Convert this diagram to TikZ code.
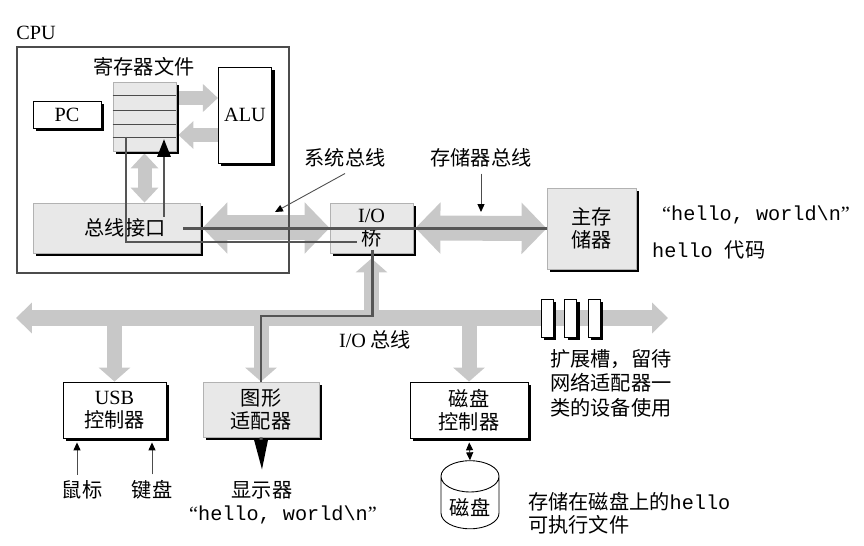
\documentclass[tikz,border=0pt]{standalone}
\usepackage{fontspec}
\setmainfont{Noto Sans CJK SC}
\setmonofont{Liberation Mono}
\newfontfamily\latfont{Liberation Serif}
\newcommand{\lat}[1]{{\latfont #1}}
\newcommand{\hwstr}{\lat{“}\texttt{hello, world\textbackslash n}\lat{”}}
\usetikzlibrary{arrows.meta,calc,positioning,shadows,shapes.geometric,backgrounds}
\definecolor{BusGray}{HTML}{C8C8C8}
\definecolor{BoxGray}{HTML}{E8E8E8}
\definecolor{PathGray}{HTML}{555555}
\tikzset{
  box/.style={draw=black, line width=0.5pt, fill=white, align=center,
    drop shadow={shadow xshift=0.06cm, shadow yshift=-0.06cm, fill=black, opacity=1}},
  graybox/.style={box, draw=black!30, fill=BoxGray},
  bigbus/.style={draw=BusGray, line width=0.5cm,
    {Triangle[width=1cm,length=0.5cm]}-{Triangle[width=1cm,length=0.5cm]}},
  iobus/.style={draw=BusGray, line width=0.32cm,
    {Triangle[width=0.6cm,length=0.32cm]}-{Triangle[width=0.6cm,length=0.32cm]}},
  tap/.style={draw=BusGray, line width=0.3cm, -{Triangle[width=0.62cm,length=0.28cm]}},
  regbus/.style={draw=BusGray, line width=0.28cm, -{Triangle[width=0.54cm,length=0.3cm]}},
  dataline/.style={draw=PathGray, line width=1.7pt},
  pointer/.style={draw=black!70, line width=0.5pt, -{Triangle[length=4.5pt,width=4pt,color=black]}},
}

\begin{document}
\begin{tikzpicture}[x=0.02cm,y=-0.02cm,font=\fontsize{11.5}{13}\selectfont]
  \useasboundingbox (0,0) rectangle (864,546);
  \node[draw=black!70, line width=1pt, minimum width=5.44cm, minimum height=4.52cm] (cpu) at (153,160) {};
  \node (cpulbl) at (36,33) {\lat{CPU}};
  \node[graybox, minimum width=1.26cm, minimum height=1.38cm] (regs) at (144.5,116.5) {};
  \foreach \y in {95,110,124,137}
    \draw[black!70] (regs.west |- 0,\y) -- (regs.east |- 0,\y);
  \node (regslbl) at (144,67) {寄存器文件};
  \node[box, minimum width=1.36cm, minimum height=0.54cm] (pc) at (67,114.5) {\lat{PC}};
  \node[box, minimum width=1cm, minimum height=1.92cm] (alu) at (245,115) {\lat{ALU}};
  \node[graybox, minimum width=3.34cm, minimum height=1cm] (bif) at (116.5,228) {};
  \node (biflbl) at (125,228) {总线接口};
  \node[graybox, minimum width=1.66cm, minimum height=1cm] (bridge) at (371.5,228) {\lat{I/O}\\桥};
  \node[graybox, minimum width=1.78cm, minimum height=1.62cm] (mem) at (591.5,228.5) {主存\\储器};
  \node[anchor=west] (memstr) at (656,215) {\hwstr};
  \node[anchor=west] (memcode) at (646,250) {\texttt{hello }代码};
  \node (syslbl) at (345,158) {系统总线};
  \node (memlbl) at (481,158) {存储器总线};

  \node[box, minimum width=2.06cm, minimum height=1.12cm] (usb) at (114.5,410) {\lat{USB}\\控制器};
  \node[graybox, minimum width=2.32cm, minimum height=1.1cm] (gfx) at (261,409.5) {图形\\适配器};
  \node[box, minimum width=2.36cm, minimum height=1.12cm] (dctl) at (469,410) {磁盘\\控制器};
  \foreach \i/\x in {1/547,2/570.5,3/594}
    \node[box, minimum width=0.24cm, minimum height=0.76cm, inner sep=0pt] (slot\i) at (\x,318) {};
  \node (iolbl) at (375,340) {\lat{I/O} 总线};
  \node[anchor=west, align=left, font=\fontsize{11.5}{14}\selectfont] (slotlbl) at (544,383) {扩展槽，留待\\网络适配器一\\类的设备使用};
  \node (mouse) at (82,490) {鼠标};
  \node (kbd) at (152,490) {键盘};
  \node (disp) at (262,490) {显示器};
  \node (dispstr) at (283,515) {\hwstr};
  \node[cylinder, shape border rotate=90, aspect=0.6, draw=black, line width=0.5pt, fill=white,
    minimum width=1.16cm, minimum height=1.22cm] (disk) at (470,507.5) {磁盘};
  \node[anchor=west, align=left] (disklbl) at (522,513.5) {存储在磁盘上的\texttt{hello}\\可执行文件};

  \coordinate (busL) at (16,318);
  \coordinate (busR) at (668,318);
  \coordinate (rtap) at (126,137);
  \coordinate (rin) at (164,139);
  \coordinate (bifup) at (164,217);
  \coordinate (bifin) at (183,228);
  \coordinate (brin) at (357,242);
  \coordinate (brout) at (372,250);
  \coordinate (syspt) at (275,212);
  \coordinate (mempt) at (481,212);

  \begin{scope}[on background layer]
    \draw[bigbus] ([xshift=0.04cm]bif.east) -- (bridge.west);
    \draw[bigbus] ([xshift=0.04cm]bridge.east) -- (mem.west);
    \draw[iobus] (busL) -- (busR);
    \draw[tap] (usb.north |- busL) -- (usb.north);
    \draw[tap] (gfx.north |- busL) -- (gfx.north);
    \draw[tap] (dctl.north |- busL) -- (dctl.north);
    \draw[tap] (bridge.south |- busL) -- ([yshift=-0.1cm]bridge.south);
    \draw[regbus] ([yshift=0.37cm]regs.east) -- ([yshift=0.37cm]regs.east -| alu.west);
    \draw[regbus] ([yshift=-0.37cm]regs.east -| alu.west) -- ([xshift=0.04cm,yshift=-0.37cm]regs.east);
    \draw[regbus, {Triangle[width=0.54cm,length=0.3cm]}-{Triangle[width=0.54cm,length=0.3cm]}]
      ([yshift=-0.04cm]regs.south) -- (bif.north -| regs.south);
  \end{scope}

  \draw[dataline] (mem.west) -- (mem.west -| bifin);
  \draw[dataline, -{Triangle[length=0.36cm,width=0.26cm,color=black]}] (bifup) -- (rin);
  \draw[dataline] (rtap) |- (brin);
  \draw[dataline] (brout) -- ++(0,66) -| (gfx.north);
  \draw[dataline, -{Triangle[length=0.6cm,width=0.26cm,color=black]}] (gfx.south) -- ([yshift=0.1cm]disp.north);

  \draw[pointer] (syslbl.south) -- (syspt);
  \draw[pointer] (memlbl.south) -- (mempt);
  \draw[pointer, shorten >=0.08cm] ([xshift=-0.1cm]mouse.north) -- ([xshift=-0.1cm]mouse.north |- usb.south);
  \draw[pointer, shorten >=0.08cm] (kbd.north) -- (kbd.north |- usb.south);
  \draw[pointer, {Triangle[length=4.5pt,width=4pt,color=black]}-{Triangle[length=4.5pt,width=4pt,color=black]},
    shorten <=0.08cm] (dctl.south) -- (disk.north);
\end{tikzpicture}
\end{document}
